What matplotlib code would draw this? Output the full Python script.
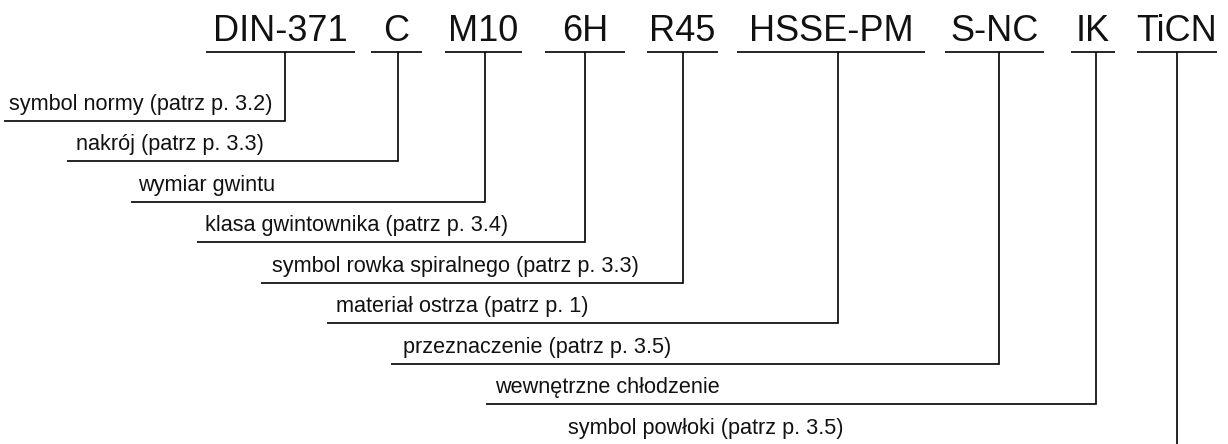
import matplotlib.pyplot as plt

# code designation parts and their meanings
codes = ["DIN-371", "C", "M10", "6H", "R45", "HSSE-PM", "S-NC", "IK", "TiCN"]
descriptions = [
    "symbol normy (patrz p. 3.2)",
    "nakrój (patrz p. 3.3)",
    "wymiar gwintu",
    "klasa gwintownika (patrz p. 3.4)",
    "symbol rowka spiralnego (patrz p. 3.3)",
    "materiał ostrza (patrz p. 1)",
    "przeznaczenie (patrz p. 3.5)",
    "wewnętrzne chłodzenie",
    "symbol powłoki (patrz p. 3.5)",
]

# layout in pixels (figure is 1228x444, y goes down)
underline_left = [206, 371, 445, 545, 646.5, 737, 945, 1070.5, 1136.5]
underline_right = [355, 421.5, 522, 625, 718, 925, 1043.5, 1115, 1216.5]
stem_x = [284.7, 398.3, 484.8, 585, 682.5, 837.5, 998.7, 1095.5, 1177]
row_y = [121, 161.3, 202.3, 241.7, 283.3, 323.3, 364.3, 404.3, 445]
row_left = [4, 67, 131, 197, 261, 327, 391, 486, 558]
text_left = [9, 76, 138, 205, 272, 336, 403, 495, 568]
underline_y = 52
code_baseline = 41

W, H = 1228, 444
fig = plt.figure(figsize=(W / 100, H / 100), dpi=100)
ax = fig.add_axes([0, 0, 1, 1])
ax.set_xlim(0, W)
ax.set_ylim(H, 0)
ax.axis("off")

lw = 1.2
for i, code in enumerate(codes):
    xl, xr = underline_left[i], underline_right[i]
    ax.plot([xl, xr], [underline_y, underline_y], color="black", lw=lw,
            solid_capstyle="butt")
    ax.text((xl + xr) / 2, code_baseline, code, ha="center", va="baseline",
            fontsize=26, family="Liberation Sans", color="#111111")

    # leader line: down from the underline, then left to the description
    ax.plot([stem_x[i], stem_x[i], row_left[i]],
            [underline_y, row_y[i], row_y[i]], color="black", lw=lw,
            solid_joinstyle="miter", solid_capstyle="butt")
    ax.text(text_left[i], row_y[i] - 11, descriptions[i], ha="left",
            va="baseline", fontsize=15.6, family="Liberation Sans",
            color="#111111")

fig.savefig("out.png", dpi=100, facecolor="white")
